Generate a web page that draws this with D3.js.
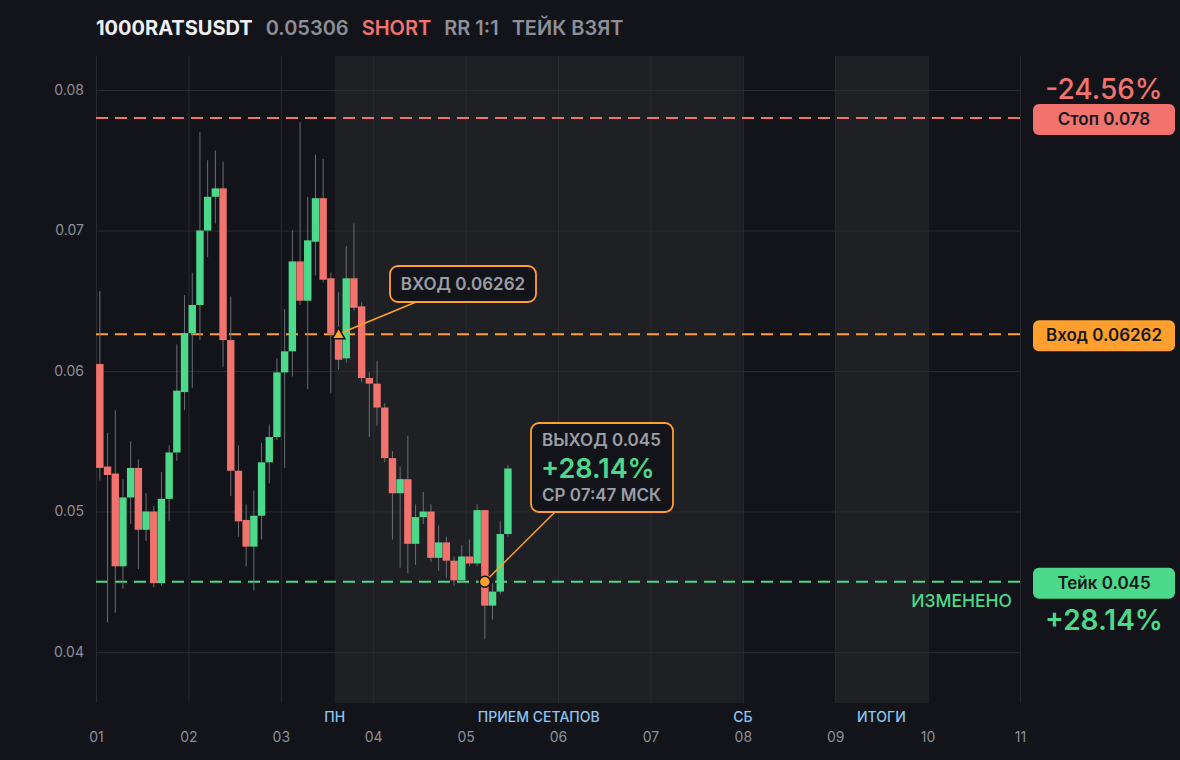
<!DOCTYPE html>
<html>
<head>
<meta charset="utf-8">
<script src="https://cdn.jsdelivr.net/npm/d3@7/dist/d3.min.js"></script>
<style>
  body { margin: 0; background: #131419; }
  svg { display: block; font-family: Inter, 'Noto Sans', sans-serif; }
</style>
</head>
<body>
<svg id="chart"></svg>
<script>
// 2h candles, 12 per day
var opens  = [0.0605,0.0532,0.0527,0.0461,0.0510,0.0531,0.0487,0.0500,0.0449,0.0509,
              0.0542,0.0585,0.0627,0.0647,0.0700,0.0724,0.0730,0.0622,0.0529,0.0494,
              0.0475,0.0497,0.0535,0.0553,0.0599,0.0614,0.0678,0.0650,0.0692,0.0723,
              0.0666,0.0626,0.0609,0.0666,0.0646,0.0595,0.0591,0.0574,0.0538,0.0513,
              0.0523,0.0477,0.0496,0.0500,0.0467,0.0478,0.0465,0.0451,0.0468,0.0463,
              0.0501,0.0433,0.0443,0.0484];
var highs  = [0.0657,0.0556,0.0572,0.0523,0.0550,0.0537,0.0513,0.0504,0.0528,0.0547,
              0.0619,0.0654,0.0670,0.0770,0.0750,0.0757,0.0749,0.0653,0.0547,0.0505,
              0.0515,0.0549,0.0562,0.0609,0.0644,0.0700,0.0777,0.0724,0.0754,0.0751,
              0.0670,0.0656,0.0689,0.0705,0.0649,0.0599,0.0607,0.0577,0.0543,0.0532,
              0.0554,0.0505,0.0514,0.0505,0.0490,0.0482,0.0468,0.0476,0.0480,0.0505,
              0.0501,0.0449,0.0493,0.0533];
var lows   = [0.0522,0.0421,0.0428,0.0445,0.0491,0.0459,0.0479,0.0446,0.0447,0.0493,
              0.0536,0.0572,0.0588,0.0622,0.0681,0.0705,0.0603,0.0511,0.0482,0.0461,
              0.0444,0.0480,0.0520,0.0551,0.0531,0.0596,0.0647,0.0587,0.0668,0.0663,
              0.0584,0.0601,0.0606,0.0643,0.0592,0.0553,0.0561,0.0535,0.0480,0.0460,
              0.0456,0.0462,0.0491,0.0464,0.0458,0.0453,0.0447,0.0450,0.0461,0.0461,
              0.0409,0.0423,0.0441,0.0482];
var closes = [0.0531,0.0526,0.0461,0.0510,0.0531,0.0487,0.0500,0.0449,0.0509,0.0542,
              0.0586,0.0627,0.0647,0.0700,0.0724,0.0730,0.0622,0.0529,0.0493,0.0475,
              0.0497,0.0535,0.0553,0.0599,0.0614,0.0678,0.0650,0.0693,0.0723,0.0665,
              0.0627,0.0608,0.0666,0.0645,0.0595,0.0591,0.0574,0.0538,0.0513,0.0523,
              0.0477,0.0496,0.0500,0.0467,0.0478,0.0465,0.0451,0.0468,0.0463,0.0501,
              0.0433,0.0443,0.0484,0.05306];

var dayTicks = [1,2,3,4,5,6,7,8,9,10,11];
var priceTicks = [0.04,0.05,0.06,0.07,0.08];

// session bands (in day units) and their labels
var bandStarts = [3 + 7/12, 9];
var bandEnds   = [8, 10];
var sessionLabels = ['ПН', 'ПРИЕМ СЕТАПОВ', 'СБ', 'ИТОГИ'];
var sessionAt      = [3 + 7/12, (3 + 7/12 + 8) / 2, 8, 9.5];

var headerTexts = ['1000RATSUSDT', '0.05306', 'SHORT', 'RR 1:1', 'ТЕЙК ВЗЯТ'];
var levelNames  = ['Стоп', 'Вход', 'Тейк'];
var levelValues = [0.078, 0.06262, 0.045];
var levelPcts   = ['-24.56%', '', '+28.14%'];
var entryIndex = 31, exitIndex = 50, exitPrice = 0.045;

var W = 1180, H = 760;
var colors = { bg: '#131419', band: '#1f2024', grid: '#2a2b30', up: '#4cd98b', down: '#f2736e',
               wick: '#6c6e76', orange: '#ff9f2e', gray: '#8d8f98', text: '#9c9ea7', blue: '#8cc4f2' };
var levelColors = [colors.down, colors.orange, colors.up];

var svg = d3.select('#chart').attr('width', W).attr('height', H);
svg.append('rect').attr('width', W).attr('height', H).attr('fill', colors.bg);

var x = d3.scaleLinear().domain([1, 11]).range([96, 1020]);
var y = d3.scaleLinear().domain([0.03637, 0.08242]).range([703, 56]);
var step = x(1 + 1/12) - x(1);
var cx = i => x(1 + (i + 0.5) / 12);

// bands
svg.selectAll('.band').data(bandStarts).enter().append('rect')
    .attr('x', d => x(d)).attr('y', y.range()[1])
    .attr('width', (d, i) => x(bandEnds[i]) - x(d))
    .attr('height', y.range()[0] - y.range()[1])
    .attr('fill', colors.band);

// grid + axes
svg.append('g').attr('transform', 'translate(0,703)')
    .call(d3.axisBottom(x).tickValues(dayTicks).tickSize(-(703 - 56)).tickFormat(d3.format('02d')))
    .call(g => g.select('.domain').remove())
    .call(g => g.selectAll('line').attr('stroke', colors.grid))
    .call(g => g.selectAll('text').attr('fill', colors.gray).attr('dy', '2.6em')
        .style('font-size', '14px').style('font-family', 'Inter, sans-serif'));

svg.append('g').attr('transform', 'translate(96,0)')
    .call(d3.axisLeft(y).tickValues(priceTicks).tickSize(-(1020 - 96)).tickPadding(12).tickFormat(d3.format('.2f')))
    .call(g => g.select('.domain').remove())
    .call(g => g.selectAll('line').attr('stroke', colors.grid))
    .call(g => g.selectAll('text').attr('fill', colors.gray)
        .style('font-size', '14px').style('font-family', 'Inter, sans-serif'));

// session labels
svg.selectAll('.session').data(sessionLabels).enter().append('text')
    .attr('x', (d, i) => x(sessionAt[i])).attr('y', 722)
    .attr('text-anchor', 'middle').attr('fill', colors.blue)
    .style('font-size', '14px').style('font-weight', 500)
    .text(d => d);

// level lines
svg.selectAll('.level').data(levelValues).enter().append('line')
    .attr('x1', 96).attr('x2', 1020)
    .attr('y1', d => y(d)).attr('y2', d => y(d))
    .attr('stroke', (d, i) => levelColors[i]).attr('stroke-width', 2)
    .attr('stroke-dasharray', '12,7');

// candles
var candles = svg.selectAll('.candle').data(opens).enter().append('g');
candles.append('line')
    .attr('x1', (d, i) => cx(i)).attr('x2', (d, i) => cx(i))
    .attr('y1', (d, i) => y(highs[i])).attr('y2', (d, i) => y(lows[i]))
    .attr('stroke', colors.wick).attr('stroke-width', 1);
candles.append('rect')
    .attr('x', (d, i) => cx(i) - step * 0.48).attr('width', step * 0.96)
    .attr('y', (d, i) => y(Math.max(d, closes[i])))
    .attr('height', (d, i) => Math.max(1, Math.abs(y(d) - y(closes[i]))))
    .attr('fill', (d, i) => closes[i] >= d ? colors.up : colors.down);

svg.append('text').attr('x', 1012).attr('y', 607).attr('text-anchor', 'end')
    .attr('fill', colors.up).style('font-size', '17.5px').style('font-weight', 500)
    .text('ИЗМЕНЕНО');

// entry annotation
var ex = cx(entryIndex), ey = y(levelValues[1]);
svg.append('line').attr('x1', ex + 2).attr('y1', ey - 1).attr('x2', 416).attr('y2', 302)
    .attr('stroke', colors.orange).attr('stroke-width', 1.5);
svg.append('rect').attr('x', 390).attr('y', 266).attr('width', 146).attr('height', 36).attr('rx', 8)
    .attr('fill', colors.bg).attr('stroke', colors.orange).attr('stroke-width', 1.8);
svg.append('text').attr('x', 463).attr('y', 290).attr('text-anchor', 'middle')
    .attr('fill', colors.text).style('font-size', '17px').style('font-weight', 600)
    .text('ВХОД ' + levelValues[1]);
svg.append('path').attr('d', d3.symbol(d3.symbolTriangle, 70)())
    .attr('transform', `translate(${ex},${ey + 1})`)
    .attr('fill', colors.orange).attr('stroke', colors.bg).attr('stroke-width', 1.5);

// exit annotation
var xx = cx(exitIndex), xy = y(exitPrice);
svg.append('line').attr('x1', xx).attr('y1', xy).attr('x2', 556).attr('y2', 511)
    .attr('stroke', colors.orange).attr('stroke-width', 1.5);
svg.append('rect').attr('x', 531).attr('y', 423).attr('width', 142).attr('height', 89).attr('rx', 8)
    .attr('fill', colors.bg).attr('stroke', colors.orange).attr('stroke-width', 1.8);
svg.append('text').attr('x', 542).attr('y', 446).attr('fill', colors.text)
    .style('font-size', '17px').style('font-weight', 600).text('ВЫХОД ' + exitPrice);
svg.append('text').attr('x', 541).attr('y', 478).attr('fill', colors.up)
    .style('font-size', '27px').style('font-weight', 600).text(levelPcts[2]);
svg.append('text').attr('x', 542).attr('y', 501).attr('fill', colors.text)
    .style('font-size', '17px').style('font-weight', 600).text('СР 07:47 МСК');
svg.append('circle').attr('cx', xx).attr('cy', xy).attr('r', 5.5)
    .attr('fill', colors.orange).attr('stroke', colors.bg).attr('stroke-width', 1.5);

// right-side level tags
var tagData = levelValues.map((v, i) => ({ v: v, name: levelNames[i], pct: levelPcts[i], color: levelColors[i], above: i === 0 }));
var tags = svg.selectAll('.tag').data(tagData).enter().append('g')
    .attr('transform', d => `translate(1104,${y(d.v) + 1})`);
tags.append('rect').attr('x', -71).attr('y', -15).attr('width', 142).attr('height', 31).attr('rx', 6)
    .attr('fill', d => d.color);
tags.append('text').attr('text-anchor', 'middle').attr('y', 6)
    .attr('fill', '#17181c').style('font-size', '17px').style('font-weight', 600)
    .text(d => d.name + ' ' + d.v);
tags.filter(d => d.pct).append('text')
    .attr('text-anchor', 'middle')
    .attr('y', d => d.above ? -20 : 47)
    .attr('fill', d => d.color)
    .style('font-size', '28px').style('font-weight', d => d.above ? 500 : 600)
    .text(d => d.pct);

// header
var hx = 96;
var headerColors = ['#eeeff2', colors.gray, colors.down, colors.gray, colors.gray];
headerTexts.forEach((t, i) => {
    var node = svg.append('text').attr('x', hx).attr('y', 35)
        .attr('fill', headerColors[i])
        .style('font-size', '20px').style('font-weight', i === 0 ? 700 : 600)
        .text(t);
    hx += node.node().getComputedTextLength() + 13;
});
</script>
</body>
</html>
